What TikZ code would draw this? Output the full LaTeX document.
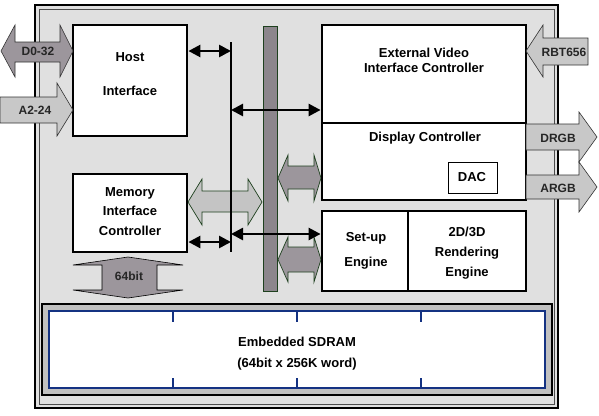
\documentclass[tikz,border=0pt]{standalone}
\usepackage{fontspec}
\setmainfont{Liberation Sans}
\usetikzlibrary{arrows.meta,fit}
\definecolor{chipbg}{RGB}{224,224,224}
\definecolor{darkarr}{RGB}{156,150,156}
\definecolor{lightarr}{RGB}{200,200,200}
\definecolor{memarr}{RGB}{196,196,196}
\definecolor{barfill}{RGB}{140,134,140}
\definecolor{dkgreen}{RGB}{30,64,30}
\definecolor{navy}{RGB}{20,50,130}
\definecolor{bandgray}{RGB}{192,192,192}
\begin{document}
\begin{tikzpicture}[x=1pt,y=-1pt,
  blk/.style={draw=black, line width=2.8pt, fill=white, inner sep=0pt},
  txt/.style={font=\fontsize{13}{15}\selectfont\bfseries, inner sep=0pt, text height=9.4pt, text depth=0pt, anchor=center},
  lbl/.style={font=\fontsize{12}{14}\selectfont\bfseries, inner sep=0pt, text height=8.6pt, text depth=0pt, anchor=center, text=black!85},
  bus/.style={line width=2.6pt, {Triangle[length=12pt,width=12pt]}-{Triangle[length=12pt,width=12pt]}},
  extarrow/.style={draw=black!80, line width=0.6pt},
  grnarrow/.style={draw=dkgreen, line width=0.7pt}
]
\useasboundingbox (0,0) rectangle (599,415);
% chip body
\path[fill=chipbg] (35,5) rectangle (558,408);
\draw[line width=2.6pt] (35,5) rectangle (558,408);
\draw[line width=0.8pt, black!70] (39,9) rectangle (554,404);

% vertical internal bus bar
\node[draw=dkgreen, line width=0.8pt, fill=barfill, fit={(263,26)(277,291)}, inner sep=0pt] (bar) {};

% memory interface wide arrow
\draw[grnarrow, fill=memarr] (188,202) -- (202,179) -- (202,191) -- (248,191) -- (248,179) -- (262,202) -- (248,225) -- (248,212) -- (202,212) -- (202,225) -- cycle;
% bar side arrows
\draw[grnarrow, fill=darkarr] (278,178) -- (288,155) -- (288,166) -- (314,166) -- (314,155) -- (321,178) -- (314,201) -- (314,189) -- (288,189) -- (288,201) -- cycle;
\draw[grnarrow, fill=darkarr] (278,259.5) -- (288,237) -- (288,247) -- (314,247) -- (314,237) -- (321,259.5) -- (314,282) -- (314,272) -- (288,272) -- (288,282) -- cycle;

% boxes
\node[blk, fit={(73,25)(187,136)}] (host) {};
\node[blk, fit={(73,174)(187,252)}] (mic) {};
\node[blk, fit={(322,25)(526,123)}] (evic) {};
\node[blk, fit={(322,123)(526,200)}] (disp) {};
\node[draw=black, line width=0.8pt, fill=white, inner sep=0pt, fit={(448,162)(497,193)}] (dac) {};
\node[blk, fit={(322,211)(408,291)}] (setup) {};
\node[blk, fit={(408,211)(526,291)}] (rend) {};

% SDRAM
\node[draw=black, line width=2.5pt, fill=bandgray, inner sep=0pt, fit={(42,304)(552,395)}] (sdout) {};
\node[draw=navy, line width=2pt, fill=white, inner sep=0pt, fit={(49,311)(545,388)}] (sdram) {};
\foreach \tx in {173,297,421}{
  \draw[navy, line width=2pt] (\tx,311) -- (\tx,322);
  \draw[navy, line width=2pt] (\tx,378) -- (\tx,388);
}

% 64bit arrow
\draw[draw=black, line width=0.6pt, fill=darkarr] (128,257) -- (183,265) -- (157,265) -- (157,290) -- (183,290) -- (128,298) -- (73,290) -- (102,290) -- (102,265) -- (73,265) -- cycle;
\node[lbl] (l64) at (129,276) {64bit};

% black bus line and connectors
\coordinate (bustop) at (231,42);
\coordinate (busbot) at (231,252);
\draw[line width=2.6pt] (bustop) -- (busbot);
\coordinate (b1) at (231,51);
\coordinate (b2) at (231,110);
\coordinate (b3) at (231,242);
\coordinate (b4) at (231,234);
\draw[bus] (host.east |- b1) -- (b1);
\draw[bus] (b2) -- (evic.west |- b2);
\draw[bus] (mic.east |- b3) -- (b3);
\draw[bus] (b4) -- (setup.west |- b4);

% external arrows
\draw[extarrow, fill=darkarr] (1,51) -- (15,25) -- (15,42) -- (60,42) -- (60,25) -- (73,51) -- (60,77) -- (60,62) -- (15,62) -- (15,77) -- cycle;
\draw[extarrow, fill=lightarr] (0,97) -- (57,97) -- (57,83) -- (73,110) -- (57,136) -- (57,123) -- (0,123) -- cycle;
\draw[extarrow, fill=lightarr] (526,51) -- (543,25) -- (543,38) -- (588,38) -- (588,65) -- (543,65) -- (543,77) -- cycle;
\draw[extarrow, fill=lightarr] (526,124) -- (579,124) -- (579,112) -- (597,137) -- (579,162) -- (579,150) -- (526,150) -- cycle;
\draw[extarrow, fill=lightarr] (526,175) -- (579,175) -- (579,162) -- (597,187) -- (579,212) -- (579,199) -- (526,199) -- cycle;

\node[lbl] (ld0) at (38,51) {D0-32};
\node[lbl] (la2) at (35,110) {A2-24};
\node[lbl] (lrbt) at (564,52) {RBT656};
\node[lbl] (ldrgb) at (558,138) {DRGB};
\node[lbl] (largb) at (558,188) {ARGB};

% box texts
\node[txt] (t1) at (130,57) {Host};
\node[txt] (t2) at (130,91) {Interface};
\node[txt] (t3) at (130,192) {Memory};
\node[txt] (t4) at (130,211) {Interface};
\node[txt] (t5) at (130,231) {Controller};
\node[txt] (t6) at (424,53) {External Video};
\node[txt] (t7) at (424,68) {Interface Controller};
\node[txt] (t8) at (425,137) {Display Controller};
\node[txt] (t9) at (472,177) {DAC};
\node[txt] (t10) at (366,237) {Set-up};
\node[txt] (t11) at (366,262) {Engine};
\node[txt] (t12) at (467,232) {2D/3D};
\node[txt] (t13) at (467,252) {Rendering};
\node[txt] (t14) at (467,272) {Engine};
\node[txt] (t15) at (297,342) {Embedded SDRAM};
\node[txt] (t16) at (297,363) {(64bit x 256K word)};
\end{tikzpicture}
\end{document}
